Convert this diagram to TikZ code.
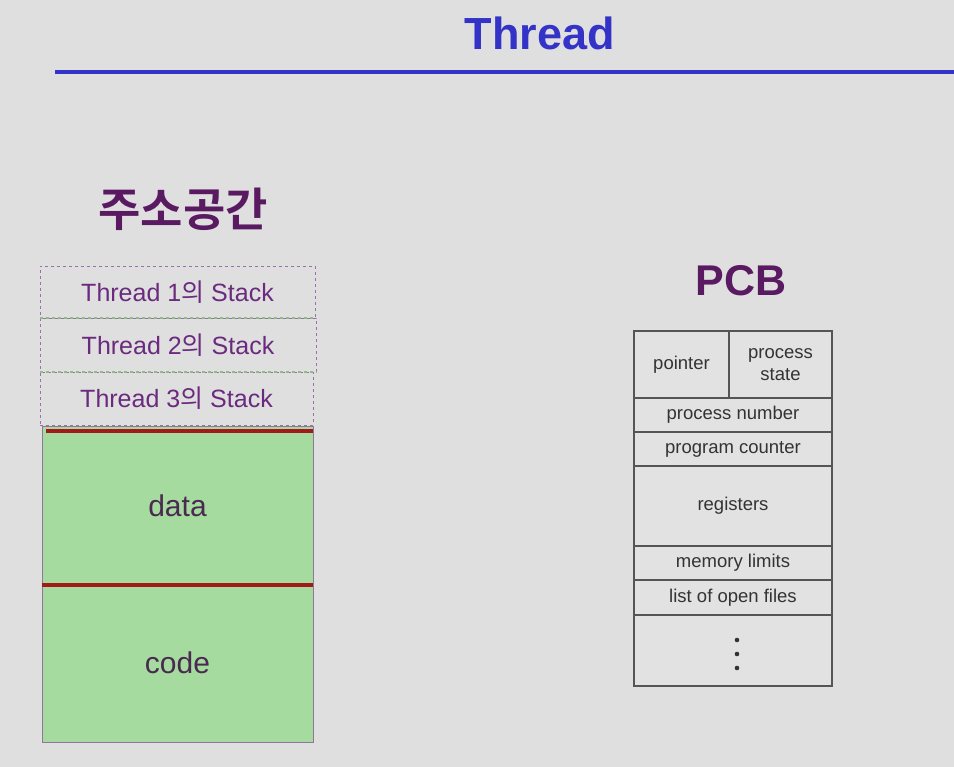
\documentclass[tikz,border=0pt]{standalone}
\usepackage{fontspec}
\setmainfont{Liberation Sans}
\newfontfamily\krfont{Noto Sans CJK KR}
\newfontfamily\krbold{Noto Sans CJK KR Bold}
\definecolor{bgc}{HTML}{DFDFDF}
\definecolor{titleblue}{HTML}{3333C8}
\definecolor{headpurple}{HTML}{5A1A62}
\definecolor{stackpurple}{HTML}{6A2A7E}
\definecolor{stackedge}{HTML}{9A70A8}
\definecolor{greenfill}{HTML}{A6DBA0}
\definecolor{redline}{HTML}{A41A1A}
\definecolor{segtext}{HTML}{4A2A50}
\definecolor{pcbline}{HTML}{555555}
\definecolor{pcbtext}{HTML}{333333}
\definecolor{pcbfill}{HTML}{E2E2E2}
\definecolor{dashgreen}{HTML}{8CC080}
\tikzset{
  stackbox/.style={draw=stackedge, dashed, line width=0.8pt, inner sep=0pt,
    text=stackpurple, font=\fontsize{25}{28}\selectfont},
  segbox/.style={draw=stackedge!70!gray, fill=greenfill, line width=0.8pt, inner sep=0pt,
    text=segtext, font=\fontsize{30}{33}\selectfont},
  redbar/.style={draw=redline, line width=4pt},
  cell/.style={draw=pcbline, fill=pcbfill, line width=1.6pt, inner sep=0pt,
    text=pcbtext, font=\fontsize{18.5}{22}\selectfont, align=center},
  bigtitle/.style={font=\fontsize{45}{48}\selectfont\bfseries, text=titleblue},
}
\begin{document}
\begin{tikzpicture}[x=1pt,y=-1pt]
\fill[bgc] (0,0) rectangle (954,767);
\useasboundingbox (0,0) rectangle (954,767);

% title
\node[bigtitle] (title) at (540,33) {Thread};
\coordinate (ruleL) at (55,72);
\coordinate (ruleR) at (954,72);
\draw[titleblue, line width=3.5pt] (ruleL) -- (ruleR);

% headings
\node[font=\krbold\fontsize{46}{50}\selectfont, text=headpurple] (addr) at (183,209) {주소공간};
\node[font=\fontsize{43}{46}\selectfont\bfseries, text=headpurple] (pcb) at (741,281) {PCB};

% stacks
\node[stackbox, minimum width=275pt, minimum height=52pt] (s1) at (177.5,292) {Thread 1{\krfont 의} Stack};
\node[stackbox, minimum width=276pt, minimum height=54pt] (s2) at (178,345) {Thread 2{\krfont 의} Stack};
\node[stackbox, minimum width=273pt, minimum height=53pt] (s3) at (176.5,398.5) {Thread 3{\krfont 의} Stack};
\draw[dashgreen, dashed, line width=2pt] (s1.south west) -- (s1.south east);
\draw[dashgreen, dashed, line width=2pt] (s2.south west) -- (s2.south east);

% data / code
\node[segbox, minimum width=271pt, minimum height=159pt] (data) at (177.5,505.5) {data};
\node[segbox, minimum width=271pt, minimum height=158pt] (code) at (177.5,663) {code};
\coordinate (r1a) at (46,431);
\coordinate (r1b) at (313,431);
\draw[redbar] (r1a) -- (r1b);
\draw[redbar] (data.south west) -- (data.south east);

% PCB table
\node[cell, minimum width=95pt, minimum height=67pt] (ptr) at (681.5,364.5) {pointer};
\node[cell, minimum width=103pt, minimum height=67pt] (pst) at (780.5,364.5) {process\\state};
\node[cell, minimum width=198pt, minimum height=34pt] (pnum) at (733,415) {process number};
\node[cell, minimum width=198pt, minimum height=34pt] (pc) at (733,449) {program counter};
\node[cell, minimum width=198pt, minimum height=80pt] (reg) at (733,506) {registers};
\node[cell, minimum width=198pt, minimum height=34pt] (mem) at (733,563) {memory limits};
\node[cell, minimum width=198pt, minimum height=35pt] (files) at (733,597.5) {list of open files};
\node[cell, minimum width=198pt, minimum height=71pt] (more) at (733,650.5) {};
\foreach \yy [count=\i] in {640,654,668} {
  \fill[pcbtext] (737,\yy) circle (2.3pt);
}
\end{tikzpicture}
\end{document}
